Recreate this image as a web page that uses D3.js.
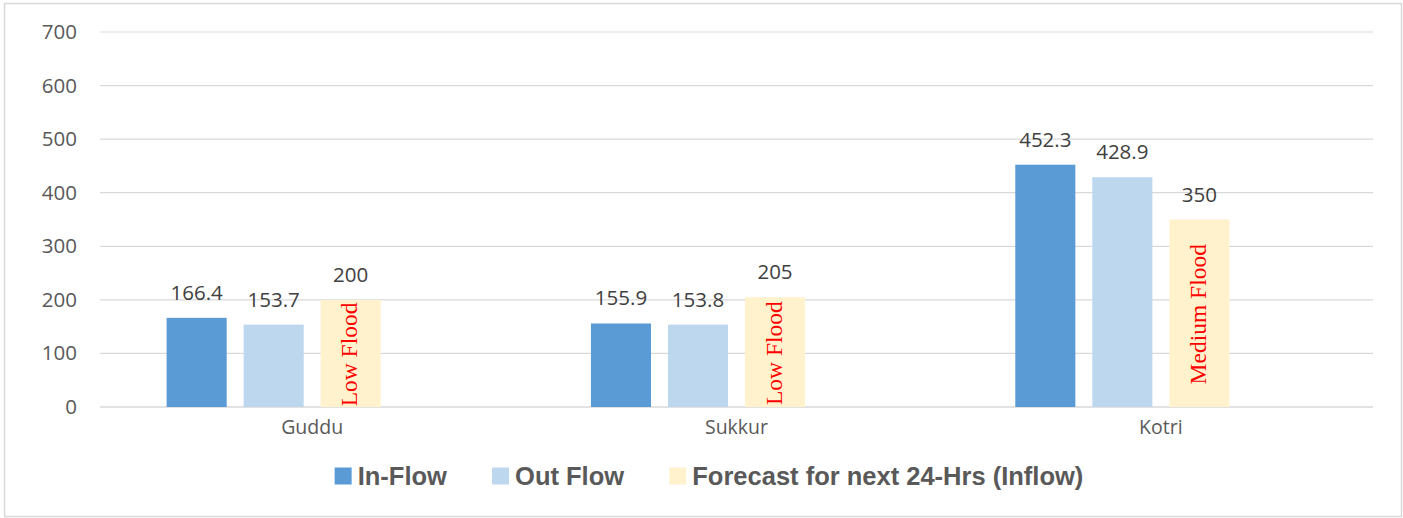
<!DOCTYPE html>
<html>
<head>
<meta charset="utf-8">
<script src="https://cdn.jsdelivr.net/npm/d3@7"></script>
<style>
  body { margin: 0; background: #fff; }
  svg { display: block; }
</style>
</head>
<body>
<svg width="1403" height="518"></svg>
<script>
var categories = ["Guddu", "Sukkur", "Kotri"];
var inFlow = [166.4, 155.9, 452.3];
var outFlow = [153.7, 153.8, 428.9];
var forecast = [200, 205, 350];
var floodLevels = ["Low Flood", "Low Flood", "Medium Flood"];
var seriesNames = ["In-Flow", "Out Flow", "Forecast for next 24-Hrs (Inflow)"];
var seriesColors = ["#5B9BD5", "#BDD7EE", "#FFF2CC"];
var yTicks = [0, 100, 200, 300, 400, 500, 600, 700];

var svg = d3.select("svg");

// outer frame
svg.append("rect")
    .attr("x", 4.5).attr("y", 3.5)
    .attr("width", 1397).attr("height", 513)
    .attr("fill", "#fff")
    .attr("stroke", "#D9D9D9")
    .attr("stroke-width", 1.5);

var x0 = d3.scaleBand().domain(categories).range([100, 1373]);
// excel reserves a 4th (empty) slot in each cluster
var x1 = d3.scaleBand()
    .domain(seriesNames.concat(["_spare"]))
    .range([0, x0.bandwidth()])
    .paddingInner(0.22)
    .paddingOuter(0.865);
var y = d3.scaleLinear().domain([0, 700]).range([407, 32]);

// gridlines
svg.selectAll("line.grid")
    .data(yTicks)
    .enter()
    .append("line")
    .attr("class", "grid")
    .attr("x1", 100).attr("x2", 1373)
    .attr("y1", function(d) { return y(d) })
    .attr("y2", function(d) { return y(d) })
    .attr("stroke", "#D9D9D9")
    .attr("stroke-width", function(d) { return d == 0 ? 1.5 : 1.2 });

var yAxis = svg.append("g")
    .attr("transform", "translate(77,0)")
    .call(d3.axisLeft(y).tickValues(yTicks).tickSize(0).tickPadding(0));
yAxis.select(".domain").remove();
yAxis.selectAll("text")
    .attr("font-family", "'Open Sans', sans-serif")
    .attr("font-size", 20.5)
    .attr("fill", "#595959");

var xAxis = svg.append("g")
    .attr("transform", "translate(0,407)")
    .call(d3.axisBottom(x0).tickSize(0).tickPadding(13));
xAxis.select(".domain").remove();
xAxis.selectAll("text")
    .attr("font-family", "'Open Sans', sans-serif")
    .attr("font-size", 19.5)
    .attr("fill", "#595959");

var rows = categories.map(function(c, i) {
    return [
        {cat: c, key: seriesNames[0], v: inFlow[i], color: seriesColors[0]},
        {cat: c, key: seriesNames[1], v: outFlow[i], color: seriesColors[1]},
        {cat: c, key: seriesNames[2], v: forecast[i], color: seriesColors[2], flood: floodLevels[i]}
    ];
});
var bars = [].concat.apply([], rows);

svg.selectAll("rect.bar")
    .data(bars)
    .enter()
    .append("rect")
    .attr("class", "bar")
    .attr("x", function(d) { return x0(d.cat) + x1(d.key) })
    .attr("y", function(d) { return y(d.v) })
    .attr("width", x1.bandwidth())
    .attr("height", function(d) { return y(0) - y(d.v) })
    .attr("fill", function(d) { return d.color });

svg.selectAll("text.val")
    .data(bars)
    .enter()
    .append("text")
    .attr("class", "val")
    .attr("x", function(d) { return x0(d.cat) + x1(d.key) + x1.bandwidth() / 2 })
    .attr("y", function(d) { return y(d.v) - 18 })
    .attr("text-anchor", "middle")
    .attr("font-family", "'Open Sans', sans-serif")
    .attr("font-size", 20.5)
    .attr("fill", "#404040")
    .text(function(d) { return d.v });

// flood level notes inside the forecast bars
svg.selectAll("text.flood")
    .data(bars.filter(function(d) { return d.flood }))
    .enter()
    .append("text")
    .attr("class", "flood")
    .attr("transform", function(d) {
        var cx = x0(d.cat) + x1(d.key) + x1.bandwidth() / 2 - 1;
        var cy = (y(d.v) + y(0)) / 2 + 1;
        return "translate(" + cx + "," + cy + ") rotate(-90)";
    })
    .attr("text-anchor", "middle")
    .attr("dy", "0.32em")
    .attr("font-family", "'Liberation Serif', 'Times New Roman', serif")
    .attr("font-size", 23.5)
    .attr("fill", "#FF0000")
    .text(function(d) { return d.flood });

// legend
var legend = svg.append("g");
var items = legend.selectAll("g")
    .data(seriesNames)
    .enter()
    .append("g");
items.append("rect")
    .attr("width", 17).attr("height", 17)
    .attr("y", -8.5)
    .attr("fill", function(d, i) { return seriesColors[i] });
items.append("text")
    .attr("x", 23)
    .attr("dy", "0.36em")
    .attr("font-family", "'Liberation Sans', sans-serif")
    .attr("font-weight", "bold")
    .attr("font-size", 25.5)
    .attr("fill", "#595959")
    .text(function(d) { return d });

var xpos = 0;
items.each(function() {
    var w = this.getBBox().width;
    d3.select(this).attr("transform", "translate(" + xpos + ",0)");
    xpos += w + 45;
});
var total = xpos - 45;
legend.attr("transform", "translate(" + (709 - total / 2) + ",476)");
</script>
</body>
</html>
